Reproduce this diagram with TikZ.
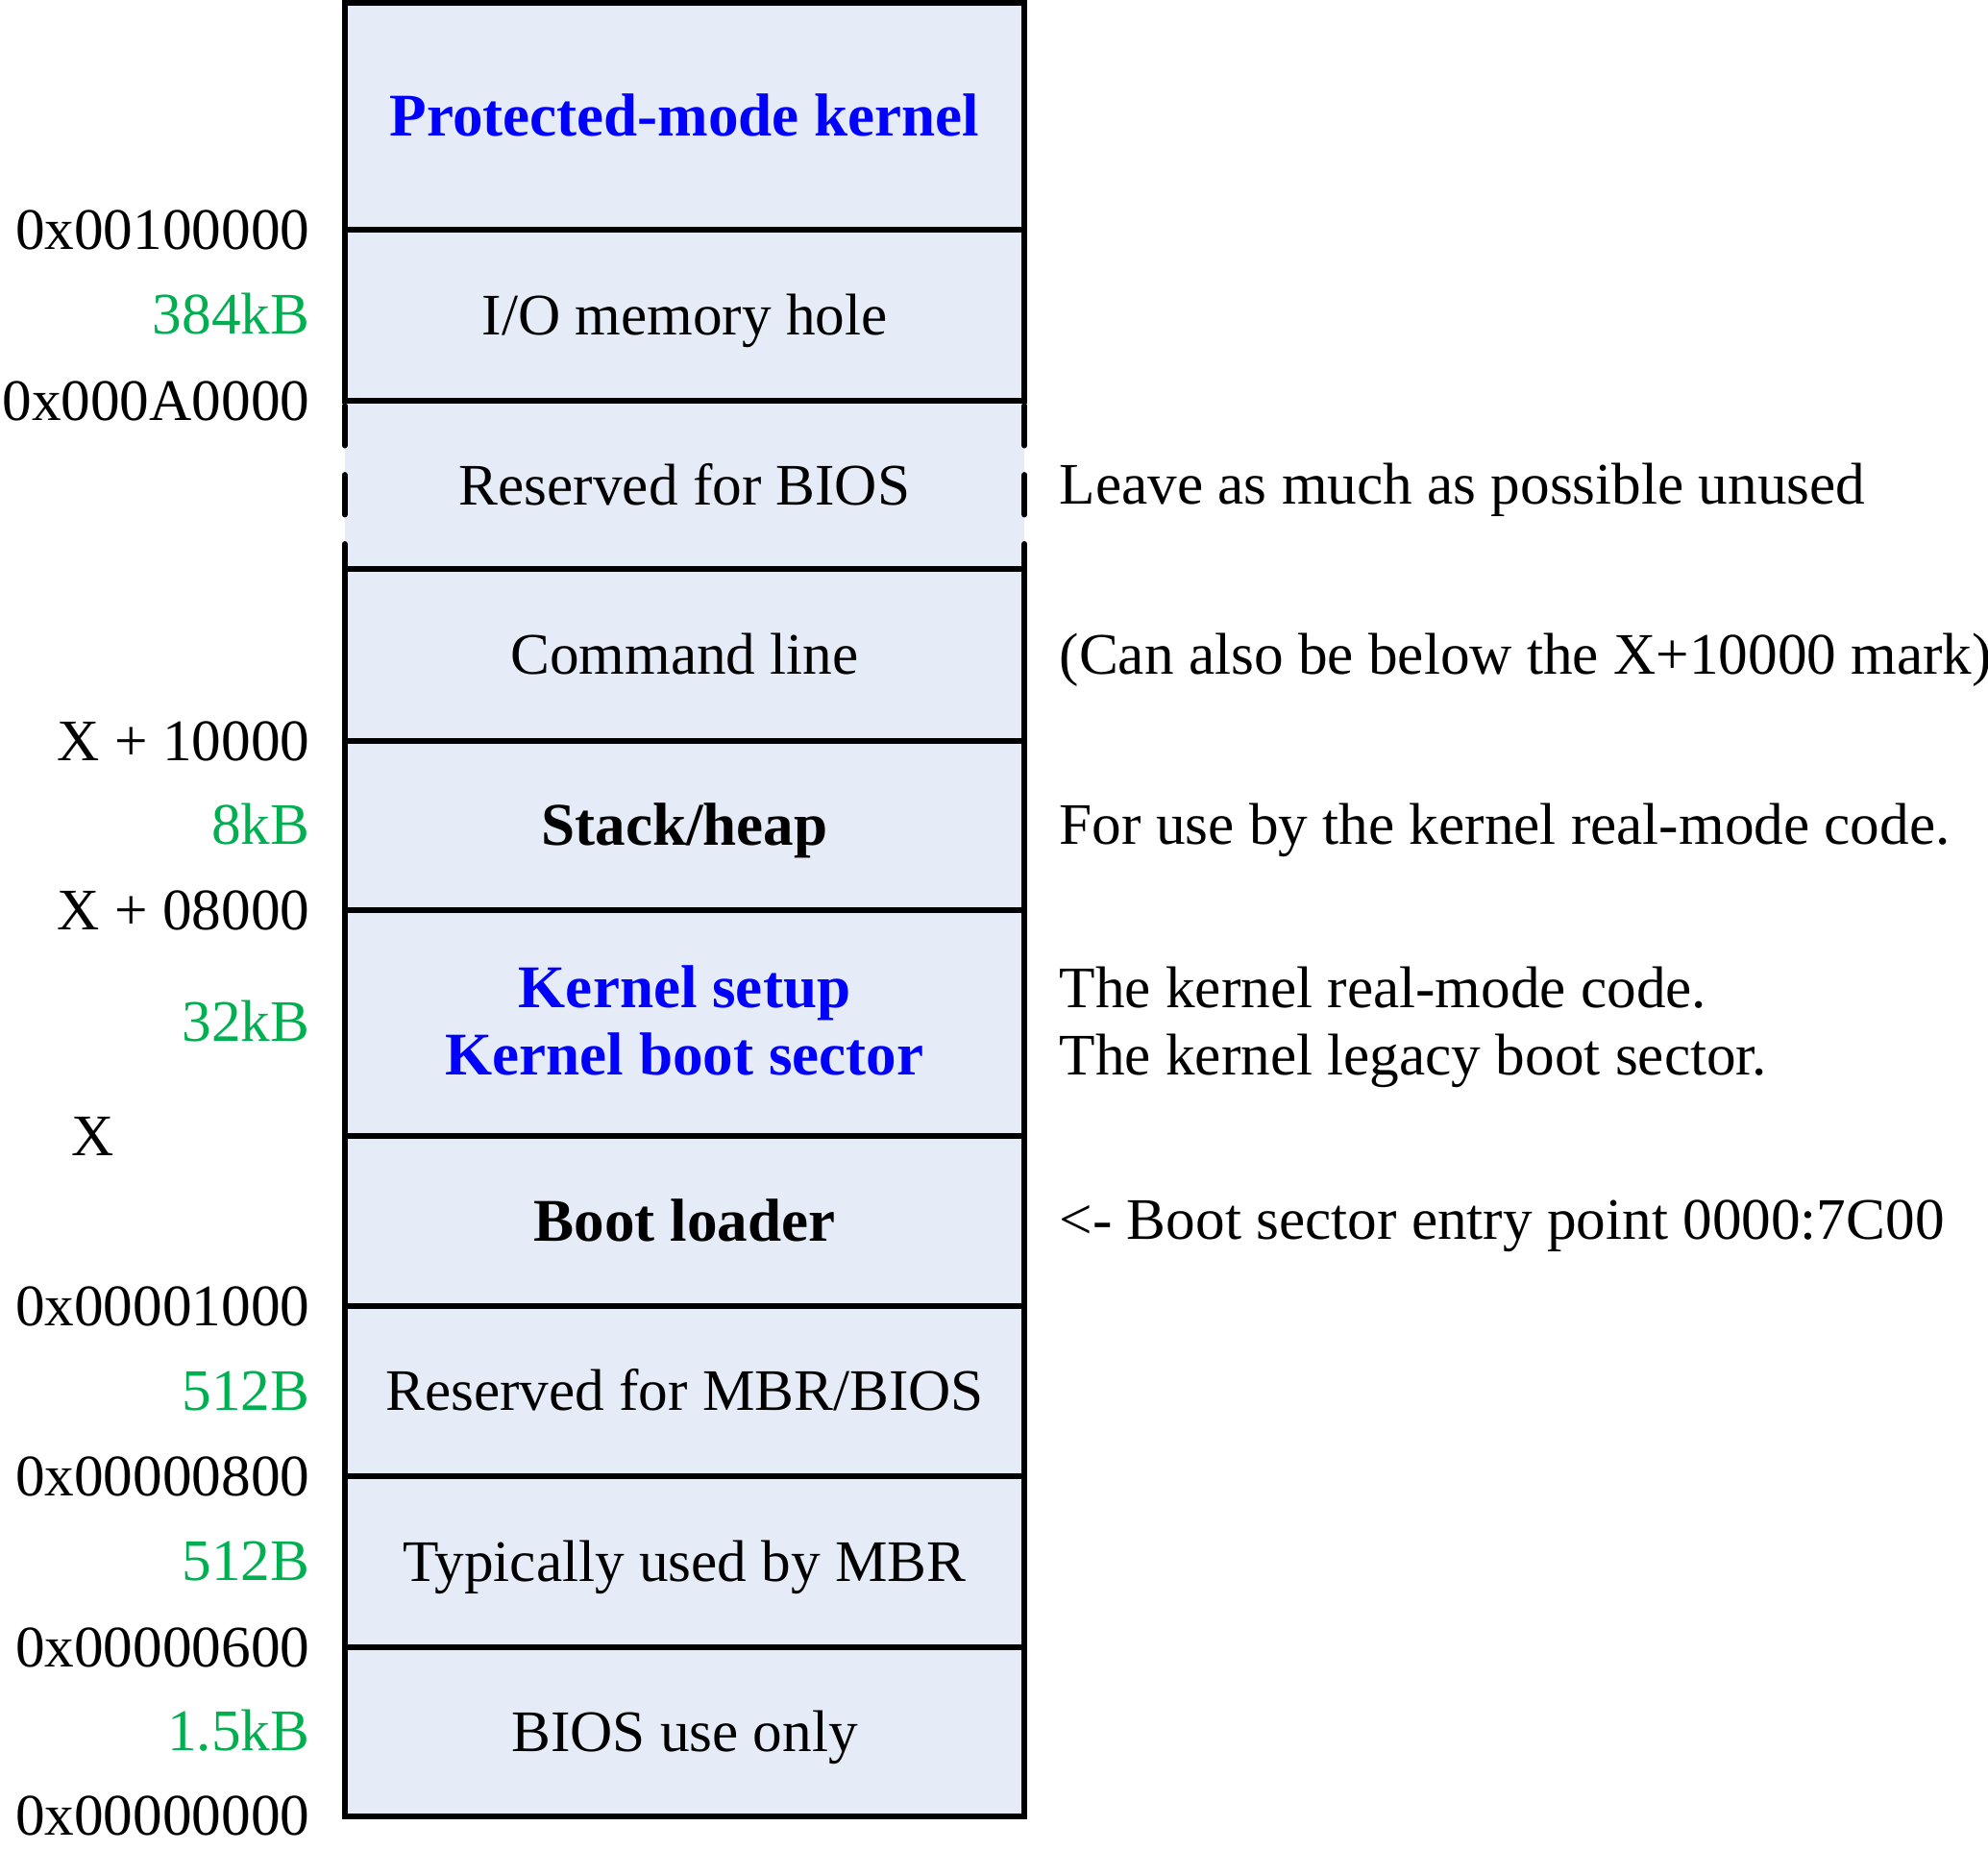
\documentclass[tikz,border=0pt]{standalone}
\usepackage{fontspec}
\setmainfont{Liberation Serif}
\definecolor{regfill}{RGB}{229,235,247}
\definecolor{sizegreen}{RGB}{0,176,80}
\definecolor{titleblue}{RGB}{0,0,255}
\newcommand{\regfont}{\fontsize{13.2pt}{15pt}\selectfont}
\newcommand{\boldfont}{\fontsize{13.6pt}{15pt}\selectfont\bfseries}
\tikzset{
  txt/.style={inner sep=0pt, text height=8.8pt, text depth=0pt, font=\regfont},
  region/.style={txt, draw, line width=1.3pt, outer sep=0pt, fill=regfill, minimum width=5.36cm},
  strong/.style={font=\boldfont},
  blue/.style={font=\boldfont, text=titleblue},
  addr/.style={txt, anchor=east},
  size/.style={txt, anchor=east, text=sizegreen},
  note/.style={txt, anchor=west},
  gap/.style={line width=1.3pt, line cap=round, dash pattern=on 8.9pt off 6.6pt}
}
\begin{document}
\begin{tikzpicture}[x=0.01cm, y=-0.01cm]
\useasboundingbox (0,0) rectangle (1568,1459);

% BIOS-reserved area: filled only, its sides are dashed below
\node[region, draw=none, minimum height=1.33cm] (rbios) at (540,382.5) {Reserved for BIOS};

% memory regions, top to bottom
\node[region, blue, minimum height=1.79cm] (pmk) at (540,91.5) {Protected-mode kernel};
\node[region, minimum height=1.35cm] (io) at (540,248.5) {I/O memory hole};
\node[region, minimum height=1.35cm] (cmd) at (540,516.5) {Command line};
\node[region, strong, minimum height=1.34cm] (stack) at (540,651) {Stack/heap};
\node[region, minimum height=1.78cm] (ksetup) at (540,807) {};
\node[txt, blue] (ksetupA) at (540,779) {Kernel setup};
\node[txt, blue] (ksetupB) at (540,832) {Kernel boot sector};
\node[region, strong, minimum height=1.34cm] (boot) at (540,963) {Boot loader};
\node[region, minimum height=1.34cm] (mbrbios) at (540,1097) {Reserved for MBR/BIOS};
\node[region, minimum height=1.35cm] (mbr) at (540,1231.5) {Typically used by MBR};
\node[region, minimum height=1.33cm] (bios) at (540,1365.5) {BIOS use only};

\draw[gap] ([yshift=-0.04cm]rbios.north west) -- (rbios.south west);
\draw[gap] ([yshift=-0.04cm]rbios.north east) -- (rbios.south east);

% addresses and sizes on the left
\node[addr] (a1) at (245,181) {0x00100000};
\node[size] (s1) at (245,248) {384kB};
\node[addr] (a2) at (245,316) {0x000A0000};
\node[addr] (a3) at (245,584) {X + 10000};
\node[size] (s2) at (245,650) {8kB};
\node[addr] (a4) at (245,718) {X + 08000};
\node[size] (s3) at (245,806) {32kB};
\node[txt, anchor=west] (a5) at (56,896) {X};
\node[addr] (a6) at (245,1030) {0x00001000};
\node[size] (s4) at (245,1097) {512B};
\node[addr] (a7) at (245,1164) {0x00000800};
\node[size] (s5) at (245,1231) {512B};
\node[addr] (a8) at (245,1299) {0x00000600};
\node[size] (s6) at (245,1365) {1.5kB};
\node[addr] (a9) at (245,1432) {0x00000000};

% notes on the right
\node[note] (n1) at (835,382) {Leave as much as possible unused};
\node[note] (n2) at (835,516) {(Can also be below the X+10000 mark)};
\node[note] (n3) at (835,650) {For use by the kernel real-mode code.};
\node[note] (n4) at (835,779) {The kernel real-mode code.};
\node[note] (n5) at (835,832) {The kernel legacy boot sector.};
\node[note] (n6) at (835,962) {<- Boot sector entry point 0000:7C00};
\end{tikzpicture}
\end{document}
